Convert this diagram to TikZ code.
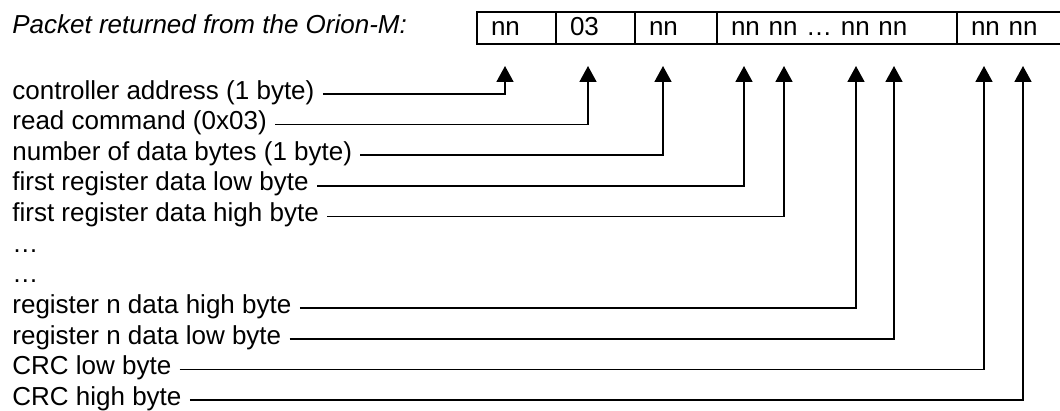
\documentclass[tikz,border=0pt]{standalone}
\usepackage{fontspec}
\setmainfont{Liberation Sans}
\usetikzlibrary{arrows.meta,positioning}

\begin{document}
\begin{tikzpicture}[x=0.5pt, y=-0.5pt, >={Triangle[length=8pt,width=8.5pt]},
  every node/.style={font=\fontsize{13}{15.5}\selectfont, text height=0.72em, text depth=0.2em},
  lbl/.style={anchor=west, inner xsep=4pt, inner ysep=0pt},
  cell/.style={draw, line width=0.95pt, anchor=west, outer sep=0pt, inner xsep=7pt, inner ysep=0pt,
    minimum height=16pt, align=left, text height=0.82em, text depth=0.1em},
  feed/.style={->, line width=0.85pt}]
  \useasboundingbox[fill=white] (0,0) rectangle (1060,411);

  % packet layout
  \node[lbl, font=\fontsize{13}{15.5}\selectfont\itshape] (title) at (4,28) {Packet returned from the Orion-M:};
  \node[cell, text width=25.5pt] (c1) at (477,28) {nn};
  \node[cell, text width=25.5pt, right=0pt of c1] (c2) {03};
  \node[cell, text width=27pt, right=0pt of c2] (c3) {nn};
  \node[cell, text width=106pt, right=0pt of c3] (c4) {nn nn … nn nn};
  \node[cell, text width=38.5pt, right=0pt of c4] (c5) {nn nn};

  % arrow tips under the bytes
  \coordinate (t1) at (505,66);
  \coordinate (t2) at (588,66);
  \coordinate (t3) at (663,66);
  \coordinate (t4) at (744,66);
  \coordinate (t5) at (784,66);
  \coordinate (t6) at (856,66);
  \coordinate (t7) at (894,66);
  \coordinate (t8) at (984,66);
  \coordinate (t9) at (1023,66);

  % field descriptions
  \node[lbl] (addr) at (4,94) {controller address (1 byte)};
  \node[lbl] (cmd) at (4,124.6) {read command (0x03)};
  \node[lbl] (count) at (4,155.2) {number of data bytes (1 byte)};
  \node[lbl] (lofirst) at (4,185.8) {first register data low byte};
  \node[lbl] (hifirst) at (4,216.4) {first register data high byte};
  \node[lbl] (skipa) at (4,247) {…};
  \node[lbl] (skipb) at (4,277.6) {…};
  \node[lbl] (hilast) at (4,308.2) {register n data high byte};
  \node[lbl] (lolast) at (4,338.8) {register n data low byte};
  \node[lbl] (crclo) at (4,369.4) {CRC low byte};
  \node[lbl] (crchi) at (4,400) {CRC high byte};

  \draw[feed] (addr.east) -| (t1);
  \draw[feed] (cmd.east) -| (t2);
  \draw[feed] (count.east) -| (t3);
  \draw[feed] (lofirst.east) -| (t4);
  \draw[feed] (hifirst.east) -| (t5);
  \draw[feed] (hilast.east) -| (t6);
  \draw[feed] (lolast.east) -| (t7);
  \draw[feed] (crclo.east) -| (t8);
  \draw[feed] (crchi.east) -| (t9);
\end{tikzpicture}
\end{document}
